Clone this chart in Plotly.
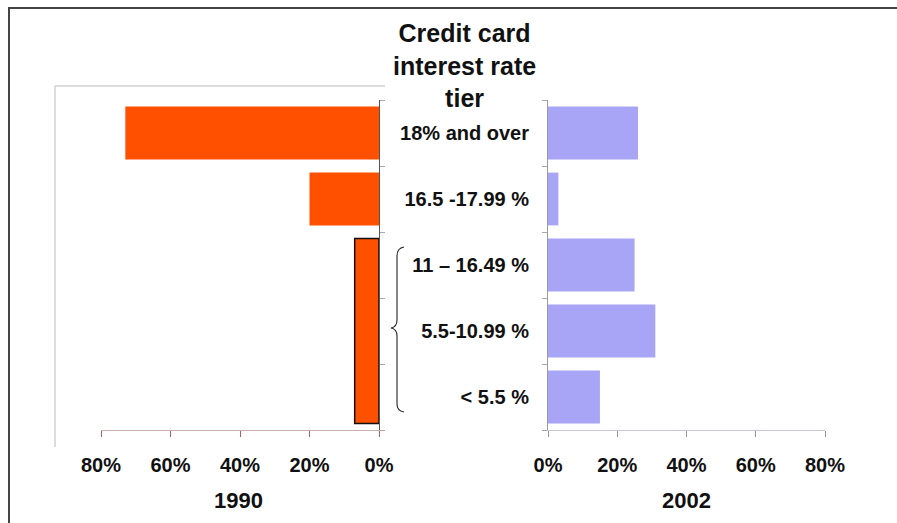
import plotly.graph_objects as go

# ---- data ----
categories = ["18% and over", "16.5 -17.99 %", "11 – 16.49 %", "5.5-10.99 %", "< 5.5 %"]
values_2002 = [26, 3, 25, 31, 15]
# 1990: the three lowest tiers are reported as one combined group
groups_1990 = ["18% and over", "16.5 -17.99 %", "below 16.5 % (combined)"]
group_members_1990 = [[0], [1], [2, 3, 4]]
values_1990 = [73, 20, 7]
tick_values = [0, 20, 40, 60, 80]
tick_labels = ["0%", "20%", "40%", "60%", "80%"]
year_left, year_right = "1990", "2002"
center_title = "Credit card<br>interest rate<br>tier"

W, H = 897, 523
def px(x): return x / W
def py(y): return 1 - y / H

n = len(categories)
ypos = [n - 1 - i for i in range(n)]  # top category at top

# 1990 bar positions/widths from group membership
pos_1990 = [sum(ypos[i] for i in m) / len(m) for m in group_members_1990]
wid_1990 = [0.8 if len(m) == 1 else len(m) - 0.2 for m in group_members_1990]
line_w_1990 = [0 if len(m) == 1 else 1.5 for m in group_members_1990]

FONT = "Liberation Sans, Arial, sans-serif"
ORANGE = "#FF5000"
LAV = "#A8A5F7"

fig = go.Figure()
fig.add_trace(go.Bar(
    x=values_1990, y=pos_1990, width=wid_1990, orientation="h",
    marker=dict(color=ORANGE, line=dict(color="#111111", width=line_w_1990)),
    xaxis="x", yaxis="y", name=year_left, hovertext=groups_1990, showlegend=False))
fig.add_trace(go.Bar(
    x=values_2002, y=ypos, width=0.8, orientation="h",
    marker=dict(color=LAV, line=dict(width=0)),
    xaxis="x2", yaxis="y2", name=year_right, hovertext=categories, showlegend=False))

ydom = [py(430), py(100)]
tickfont = dict(family=FONT, size=20, color="#111111", weight="bold")

fig.update_layout(
    template="none",
    width=W, height=H, margin=dict(l=0, r=0, t=0, b=0, pad=0),
    paper_bgcolor="white", plot_bgcolor="rgba(0,0,0,0)",
    xaxis=dict(domain=[px(101), px(379)], range=[80, 0], tickvals=tick_values, ticktext=tick_labels,
               showgrid=False, zeroline=False, showline=True, linecolor="#C9AFAF", linewidth=1,
               ticks="outside", ticklen=6, tickcolor="#B06060", tickfont=tickfont,
               ticklabelstandoff=11, anchor="y", automargin=False),
    yaxis=dict(domain=ydom, range=[-0.5, n - 0.5], side="right", showticklabels=False,
               showgrid=False, zeroline=False, showline=True, linecolor="#555555", linewidth=1,
               ticks="", tickvals=ypos, automargin=False,
               minor=dict(ticks="outside", ticklen=5, tickcolor="#AAAAAA", tick0=-0.5, dtick=1),
               anchor="x"),
    xaxis2=dict(domain=[px(548), px(825)], range=[0, 80], tickvals=tick_values, ticktext=tick_labels,
                showgrid=False, zeroline=False, showline=True, linecolor="#C8C8DC", linewidth=1,
                ticks="outside", ticklen=6, tickcolor="#9090B0", tickfont=tickfont,
                ticklabelstandoff=11, anchor="y2", automargin=False),
    yaxis2=dict(domain=ydom, range=[-0.5, n - 0.5], side="left",
                tickvals=ypos, ticktext=categories, ticks="",
                tickfont=dict(family=FONT, size=20, color="#111111", weight="bold"),
                ticklabelstandoff=14, automargin=False,
                showgrid=False, zeroline=False, showline=True, linecolor="#999999", linewidth=1,
                minor=dict(ticks="outside", ticklen=5, tickcolor="#AAAAAA", tick0=-0.5, dtick=1),
                anchor="x2"),
    bargap=0.2,
)

ann_font = dict(family=FONT, size=22, color="#111111", weight="bold")
fig.add_annotation(text=center_title, x=px(464), y=py(65), xref="paper", yref="paper",
                   showarrow=False, xanchor="center", yanchor="middle",
                   font=dict(family=FONT, size=25, color="#111111", weight="bold"))
fig.add_annotation(text=year_left, x=px(238), y=py(500), xref="paper", yref="paper",
                   showarrow=False, xanchor="center", yanchor="middle", font=ann_font)
fig.add_annotation(text=year_right, x=px(686), y=py(500), xref="paper", yref="paper",
                   showarrow=False, xanchor="center", yanchor="middle", font=ann_font)

# outer frame (top and left edges visible)
fig.add_shape(type="line", xref="paper", yref="paper", x0=px(8), x1=px(900), y0=py(8), y1=py(8),
              line=dict(color="#444444", width=2))
fig.add_shape(type="line", xref="paper", yref="paper", x0=px(9), x1=px(9), y0=py(8), y1=py(530),
              line=dict(color="#444444", width=2))
# light grey plot-area frame on the left panel
fig.add_shape(type="line", xref="paper", yref="paper", x0=px(55), x1=px(385), y0=py(86), y1=py(86),
              line=dict(color="#D0D0D0", width=1.5))
fig.add_shape(type="line", xref="paper", yref="paper", x0=px(55), x1=px(55), y0=py(86), y1=py(447),
              line=dict(color="#D0D0D0", width=1.5))

# brace grouping the three lowest tiers
def P(x, y): return f"{px(x):.5f},{py(y):.5f}"
brace = (f"M {P(404,247)} Q {P(397,248)} {P(397,256)} L {P(397,320)} "
         f"Q {P(397,327)} {P(391,328)} Q {P(397,329)} {P(397,336)} "
         f"L {P(397,404)} Q {P(397,411)} {P(404,412)}")
fig.add_shape(type="path", xref="paper", yref="paper", path=brace,
              line=dict(color="#222222", width=1.1))

fig.write_html("out.html", config={"displayModeBar": False},
               post_script="document.body.style.margin='0';document.body.style.overflow='hidden';")
